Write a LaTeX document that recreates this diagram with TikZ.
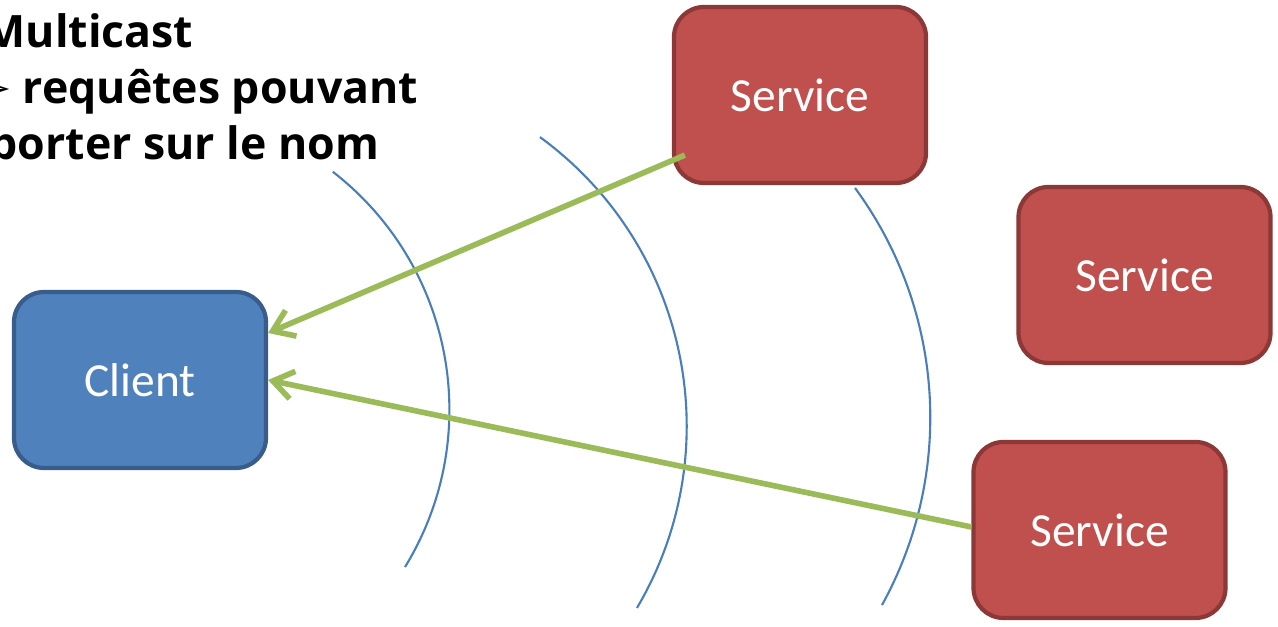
\documentclass[tikz,border=0pt]{standalone}
\usepackage{fontspec}
\setmainfont{Carlito}
\newfontfamily\headfont{Open Sans}
\newfontfamily\symbfont{DejaVu Sans}
\usetikzlibrary{arrows.meta}
\usetikzlibrary{positioning}
\definecolor{clientblue}{HTML}{4F81BD}
\definecolor{clientline}{HTML}{385D8A}
\definecolor{servicered}{HTML}{C0504D}
\definecolor{serviceline}{HTML}{8C3836}
\definecolor{replygreen}{HTML}{9BBB59}
\definecolor{wavecol}{HTML}{4A7EBB}
\tikzset{box/.style = {rounded corners = 3mm, line width = 1.2pt, minimum width = 2.52cm, minimum height = 1.76cm, text = white, font = \fontsize{13.5}{16}\selectfont}}
\tikzset{clientbox/.style = {box, fill = clientblue, draw = clientline}}
\tikzset{servicebox/.style = {box, fill = servicered, draw = serviceline}}
\tikzset{reply/.style = {replygreen, line width = 1.6pt, -{Straight Barb[length = 2mm, width = 2.8mm]}}}
\tikzset{wave/.style = {wavecol, line width = 0.6pt}}
\tikzset{title/.style = {inner sep = 0, font = \headfont\bfseries\fontsize{12.7}{15}\selectfont}}

\begin{document}
\begin{tikzpicture}
    \useasboundingbox (0, 0) rectangle (12.78, 6.27);

    \node [title, anchor = base west] (multicast) at (-0.17, 5.79) {Multicast};
    \node [title, anchor = base east] (puce) at (0.13, 5.23) {\symbfont ➢};
    \node [title, anchor = base west] (requetes) at (0.22, 5.23) {requêtes pouvant};
    \node [title, anchor = base west] (porter) at (-0.11, 4.67) {porter sur le nom};

    \draw [wave] (1.483, 2.173) ++(52.2:3.011) arc [start angle = 52.2, end angle = -31.5, radius = 3.011];
    \draw [wave] (3.289, 2.010) ++(53.85:3.578) arc [start angle = 53.85, end angle = -30.57, radius = 3.578];
    \draw [wave] (5.424, 2.094) ++(36.3:3.879) arc [start angle = 36.3, end angle = -28.9, radius = 3.879];

    \node [clientbox] (client) at (1.40, 2.47) {Client};
    \node [servicebox] (serviceA) at (8.00, 5.32) {Service};
    \node [servicebox] (serviceB) at (11.445, 3.52) {Service};
    \node [servicebox] (serviceC) at (10.995, 0.97) {Service};

    \draw [reply] ([shift = {(0.13, 0.30)}] serviceA.south west) -- ([yshift = 4.7mm] client.east);
    \draw [reply] ([yshift = 0.3mm] serviceC.west) -- (client.east);
  \end{tikzpicture}
\end{document}
